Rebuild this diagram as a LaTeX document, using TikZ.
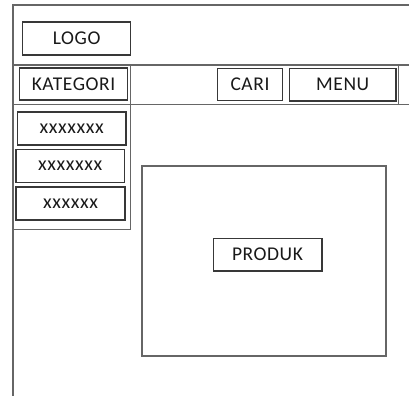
\documentclass[tikz,border=0pt]{standalone}
\usepackage{fontspec}
\setmainfont{Carlito}[LetterSpace=3]
\begin{document}
\begin{tikzpicture}[x=1pt,y=-1pt,
  frame/.style={draw=black!60, line width=1.9pt},
  box/.style={draw=black!78, line width=1.5pt, rectangle, inner sep=0pt,
    font=\fontsize{19.5}{22}\selectfont, text=black!90},
  smallbox/.style={box, font=\fontsize{20}{22}\selectfont}]
\useasboundingbox (0,0) rectangle (409,396);
% page frame and header/navigation rules
\coordinate (tl) at (13,5);
\coordinate (tr) at (409,5);
\coordinate (bl) at (13,396);
\coordinate (h1l) at (13,65);
\coordinate (h1r) at (409,65);
\coordinate (h2l) at (13,104.5);
\coordinate (h2r) at (409,104.5);
\coordinate (vr1) at (398.5,65);
\coordinate (vr2) at (398.5,104.5);
\coordinate (sbtop) at (130.5,65);
\coordinate (sbcorner) at (130.5,229.5);
\coordinate (sbbot) at (13,229.5);
\draw[frame] (tr) -- (tl) -- (bl);
\draw[frame] (h1l) -- (h1r);
\draw[frame] (h2l) -- (h2r);
\draw[frame] (vr1) -- (vr2);
\draw[frame] (sbtop) -- (sbcorner) -- (sbbot);
% header and navigation items
\node[box, minimum width=108pt, minimum height=33pt] (logo) at (76.7,38.3) {LOGO};
\node[box, minimum width=108pt, minimum height=32pt] (kategori) at (73.5,84) {KATEGORI};
\node[box, minimum width=65pt, minimum height=32pt] (cari) at (250,84.3) {CARI};
\node[box, minimum width=106.5pt, minimum height=32.5pt] (menu) at (342.7,84.6) {MENU};
% category list
\node[smallbox, minimum width=108.5pt, minimum height=33pt] (k1) at (71.7,128.3) {xxxxxxx};
\node[smallbox, minimum width=108.5pt, minimum height=33pt] (k2) at (70.2,165.8) {xxxxxxx};
\node[smallbox, minimum width=109pt, minimum height=33pt] (k3) at (70.5,203.3) {xxxxxx};
% product area
\node[frame, rectangle, inner sep=0pt, minimum width=243.5pt, minimum height=190pt] (area) at (264,261) {};
\node[box, minimum width=108.5pt, minimum height=32.5pt] (produk) at (267.5,254.5) {PRODUK};
\end{tikzpicture}
\end{document}
